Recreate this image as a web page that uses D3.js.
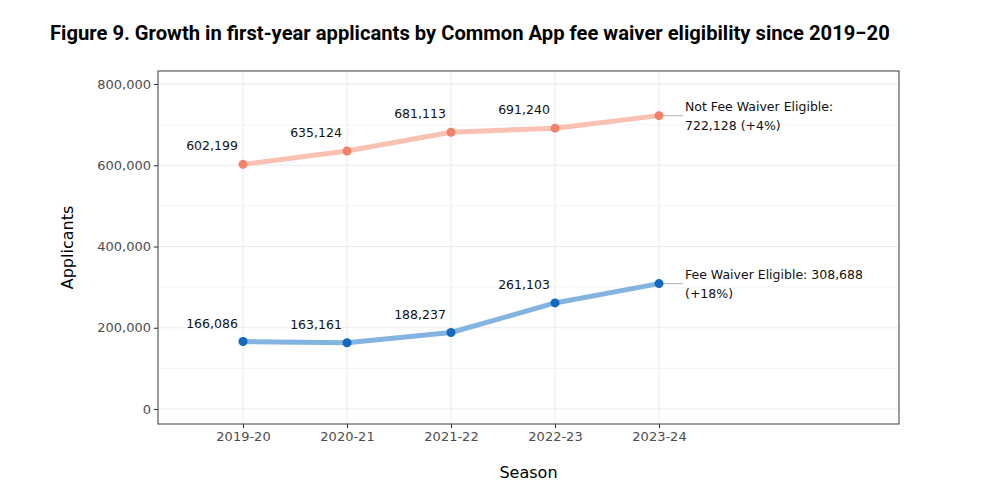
<!DOCTYPE html>
<html>
<head>
<meta charset="utf-8">
<script src="https://cdn.jsdelivr.net/npm/d3@7"></script>
<style>
  body { margin: 0; background: #fff; }
  svg { display: block; }
</style>
</head>
<body>
<div id="chart"></div>
<script>
// data
var seasons = ['2019-20', '2020-21', '2021-22', '2022-23', '2023-24'];
var notEligible = [602199, 635124, 681113, 691240, 722128];
var eligible = [166086, 163161, 188237, 261103, 308688];
var yTicks = [0, 200000, 400000, 600000, 800000];
var yMinor = [100000, 300000, 500000, 700000];
var endLabels = [
  ['Not Fee Waiver Eligible:', '722,128 (+4%)'],
  ['Fee Waiver Eligible: 308,688', '(+18%)']
];

var W = 981, H = 491;
var panel = {left: 158, right: 899, top: 71, bottom: 424};

var svg = d3.select('#chart').append('svg')
  .attr('width', W).attr('height', H);

var x = d3.scalePoint().domain(seasons).range([243, 659]);
var y = d3.scaleLinear().domain([0, 800000]).range([409, 84]);
var fmt = d3.format(',');

var series = [
  {vals: notEligible, line: '#f8c1b2', pt: '#f0826a', label: endLabels[0]},
  {vals: eligible, line: '#83b4e0', pt: '#1468bd', label: endLabels[1]}
];

// title
svg.append('text')
  .attr('x', 50).attr('y', 40)
  .attr('font-family', 'Roboto, sans-serif')
  .attr('font-weight', 'bold')
  .attr('font-size', '20.2px')
  .attr('fill', '#000')
  .text('Figure 9. Growth in first-year applicants by Common App fee waiver eligibility since 2019\u221220');

// grid
var grid = svg.append('g');
grid.selectAll('line.minor').data(yMinor).enter().append('line')
  .attr('x1', panel.left).attr('x2', panel.right)
  .attr('y1', function (d) { return y(d); })
  .attr('y2', function (d) { return y(d); })
  .attr('stroke', '#f3f3f3').attr('stroke-width', 0.8);
grid.selectAll('line.major').data(yTicks).enter().append('line')
  .attr('x1', panel.left).attr('x2', panel.right)
  .attr('y1', function (d) { return y(d); })
  .attr('y2', function (d) { return y(d); })
  .attr('stroke', '#ebebeb').attr('stroke-width', 1.1);
grid.selectAll('line.vert').data(seasons).enter().append('line')
  .attr('x1', function (d) { return x(d); })
  .attr('x2', function (d) { return x(d); })
  .attr('y1', panel.top).attr('y2', panel.bottom)
  .attr('stroke', '#ebebeb').attr('stroke-width', 1.1);

// axes
var yAxis = svg.append('g')
  .attr('transform', 'translate(' + panel.left + ',0)')
  .call(d3.axisLeft(y).tickValues(yTicks).tickFormat(fmt).tickSize(4).tickPadding(3));
var xAxis = svg.append('g')
  .attr('transform', 'translate(0,' + panel.bottom + ')')
  .call(d3.axisBottom(x).tickSize(4).tickPadding(4));
[yAxis, xAxis].forEach(function (a) {
  a.select('.domain').remove();
  a.selectAll('.tick line').attr('stroke', '#333').attr('stroke-width', 1.1);
  a.selectAll('.tick text')
    .attr('font-family', 'DejaVu Sans, sans-serif')
    .attr('font-size', '13px')
    .attr('fill', '#4d4d4d');
});

// end annotation segments
series.forEach(function (s) {
  var last = s.vals[s.vals.length - 1];
  svg.append('line')
    .attr('x1', x(seasons[4])).attr('x2', x(seasons[4]) + 24)
    .attr('y1', y(last)).attr('y2', y(last))
    .attr('stroke', '#bdbdbd').attr('stroke-width', 1.2);
});

// lines and points
var line = d3.line()
  .x(function (d, i) { return x(seasons[i]); })
  .y(function (d) { return y(d); });

series.forEach(function (s) {
  svg.append('path')
    .datum(s.vals)
    .attr('d', line)
    .attr('fill', 'none')
    .attr('stroke', s.line)
    .attr('stroke-width', 5)
    .attr('stroke-linejoin', 'round');

  svg.selectAll(null).data(s.vals).enter().append('circle')
    .attr('cx', function (d, i) { return x(seasons[i]); })
    .attr('cy', function (d) { return y(d); })
    .attr('r', 4.5)
    .attr('fill', s.pt);

  // value labels (all but the last point)
  svg.selectAll(null).data(s.vals.slice(0, 4)).enter().append('text')
    .attr('x', function (d, i) { return x(seasons[i]) - 31; })
    .attr('y', function (d) { return y(d) - 14; })
    .attr('text-anchor', 'middle')
    .attr('font-family', 'DejaVu Sans, sans-serif')
    .attr('font-size', '12.5px')
    .attr('fill', '#111')
    .text(function (d) { return fmt(d); });

  // end label
  var last = s.vals[s.vals.length - 1];
  var t = svg.append('text')
    .attr('x', x(seasons[4]) + 26)
    .attr('y', y(last) - 5)
    .attr('font-family', 'DejaVu Sans, sans-serif')
    .attr('font-size', '12.5px')
    .attr('fill', '#111');
  t.selectAll('tspan').data(s.label).enter().append('tspan')
    .attr('x', x(seasons[4]) + 26)
    .attr('dy', function (d, i) { return i === 0 ? 0 : 19; })
    .text(function (d) { return d; });
});

// panel border
svg.append('rect')
  .attr('x', panel.left).attr('y', panel.top)
  .attr('width', panel.right - panel.left)
  .attr('height', panel.bottom - panel.top)
  .attr('fill', 'none')
  .attr('stroke', '#5a5a5a').attr('stroke-width', 1.2);

// axis titles
svg.append('text')
  .attr('transform', 'translate(73,' + ((panel.top + panel.bottom) / 2) + ') rotate(-90)')
  .attr('text-anchor', 'middle')
  .attr('font-family', 'DejaVu Sans, sans-serif')
  .attr('font-size', '16px')
  .attr('fill', '#000')
  .text('Applicants');
svg.append('text')
  .attr('x', (panel.left + panel.right) / 2).attr('y', 478)
  .attr('text-anchor', 'middle')
  .attr('font-family', 'DejaVu Sans, sans-serif')
  .attr('font-size', '16px')
  .attr('fill', '#000')
  .text('Season');
</script>
</body>
</html>
